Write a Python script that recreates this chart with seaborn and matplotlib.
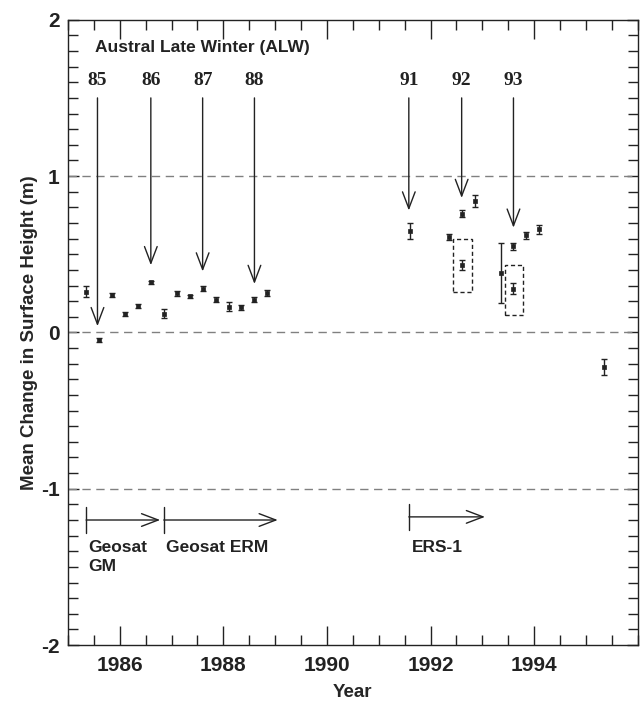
import matplotlib
matplotlib.use("Agg")
import matplotlib.pyplot as plt
from matplotlib.patches import Rectangle
from matplotlib.ticker import MultipleLocator
import seaborn as sns
import pandas as pd

# ---- data ----
geosat_year = [1985.35, 1985.6, 1985.85, 1986.1, 1986.35, 1986.6, 1986.85, 1987.1,
               1987.35, 1987.6, 1987.85, 1988.1, 1988.35, 1988.6, 1988.85]
geosat_dh = [0.26, -0.05, 0.24, 0.12, 0.17, 0.32, 0.12, 0.25,
             0.23, 0.28, 0.21, 0.165, 0.16, 0.21, 0.25]
geosat_err = [0.035, 0.012, 0.012, 0.012, 0.012, 0.012, 0.03, 0.015,
              0.012, 0.018, 0.015, 0.03, 0.015, 0.015, 0.02]

ers_year = [1991.6, 1992.35, 1992.6, 1992.6, 1992.85, 1993.35, 1993.6, 1993.6, 1993.85, 1994.1, 1995.35]
ers_dh = [0.65, 0.61, 0.76, 0.43, 0.84, 0.38, 0.55, 0.28, 0.62, 0.66, -0.22]
ers_err = [0.05, 0.02, 0.02, 0.03, 0.04, 0.19, 0.025, 0.035, 0.025, 0.03, 0.05]

# ALW season arrows: label, x, arrow tip y
alw_labels = ["85", "86", "87", "88", "91", "92", "93"]
alw_x = [1985.57, 1986.6, 1987.6, 1988.6, 1991.58, 1992.6, 1993.6]
alw_tip = [0.04, 0.43, 0.39, 0.31, 0.78, 0.86, 0.67]

# mission periods: name, start, end
mission_names = ["Geosat\nGM", "Geosat ERM", "ERS-1"]
mission_start = [1985.35, 1986.85, 1991.58]
mission_end = [1986.78, 1989.05, 1993.05]

# dashed boxes (x0, x1, y0, y1)
box_x0 = [1992.44, 1993.44]
box_x1 = [1992.79, 1993.79]
box_y0 = [0.26, 0.11]
box_y1 = [0.60, 0.43]

ref_lines = [1, 0, -1]

# ---- plotting ----
sns.set_theme(style="ticks")
plt.rcParams['font.family'] = ['Liberation Sans', 'DejaVu Sans']
plt.rcParams['axes.unicode_minus'] = False

fig = plt.figure(figsize=(6.41, 7.05), dpi=100)
ax = fig.add_axes([0.106, 0.085, 0.889, 0.887])

df = pd.DataFrame({
    "year": geosat_year + ers_year,
    "dh": geosat_dh + ers_dh,
    "err": geosat_err + ers_err,
})

for y in ref_lines:
    ax.axhline(y, color="#808080", lw=1.0, ls=(0, (6, 4)), zorder=1)

ax.errorbar(df["year"], df["dh"], yerr=df["err"], fmt="none", ecolor="#222222",
            elinewidth=1.0, capsize=2.5, capthick=1.0, zorder=3)
sns.scatterplot(data=df, x="year", y="dh", ax=ax, marker="s", s=6, color="#222222",
                edgecolor="#222222", linewidth=0.5, zorder=4, legend=False)

for x0, x1, y0, y1 in zip(box_x0, box_x1, box_y0, box_y1):
    ax.add_patch(Rectangle((x0, y0), x1 - x0, y1 - y0, fill=False, ec="#222222",
                           lw=1.0, ls=(0, (3, 2)), zorder=2))

for lab, x, tip in zip(alw_labels, alw_x, alw_tip):
    ax.text(x, 1.61, lab, ha="center", va="center", fontsize=14, fontweight="bold",
            family=["Liberation Serif", "DejaVu Serif"], color="#222222")
    ax.annotate("", xy=(x, tip), xytext=(x, 1.50),
                arrowprops=dict(arrowstyle="->,head_length=1.0,head_width=0.38",
                                lw=1.0, color="#222222", shrinkA=0, shrinkB=0))

ax.text(1985.52, 1.82, "Austral Late Winter (ALW)", ha="left", va="center",
        fontsize=12.5, fontweight="bold", color="#222222")

for name, s, e in zip(mission_names, mission_start, mission_end):
    y = -1.2 if name != "ERS-1" else -1.18
    ax.annotate("", xy=(e, y), xytext=(s, y),
                arrowprops=dict(arrowstyle="->,head_length=1.0,head_width=0.38",
                                lw=1.0, color="#222222", shrinkA=0, shrinkB=0))
    ax.plot([s, s], [y - 0.085, y + 0.085], color="#222222", lw=1.0)
    ax.text(s + 0.05, -1.33, name, ha="left", va="top", fontsize=12.5,
            fontweight="bold", color="#222222", linespacing=1.3)

ax.set_xlim(1985, 1996)
ax.set_ylim(-2, 2)
ax.set_xticks([1986, 1988, 1990, 1992, 1994])
ax.xaxis.set_minor_locator(MultipleLocator(0.5))
ax.yaxis.set_major_locator(MultipleLocator(1))
ax.yaxis.set_minor_locator(MultipleLocator(0.1))
ax.tick_params(which="both", direction="in", top=True, right=True, colors="#222222",
               width=1.0)
ax.tick_params(which="major", axis="x", length=14, pad=8)
ax.tick_params(which="minor", axis="x", length=7)
ax.tick_params(which="major", axis="y", length=8, pad=6)
ax.tick_params(which="minor", axis="y", length=7)
ax.tick_params(labelsize=15)
for lbl in ax.get_xticklabels() + ax.get_yticklabels():
    lbl.set_fontweight("bold")
for sp in ax.spines.values():
    sp.set_linewidth(1.0)
    sp.set_color("#222222")

ax.set_xlabel("Year", fontsize=13.5, fontweight="bold", labelpad=6)
ax.set_ylabel("Mean Change in Surface Height (m)", fontsize=13.5, fontweight="bold", labelpad=2)

fig.savefig("out.png", dpi=100, facecolor="white")
